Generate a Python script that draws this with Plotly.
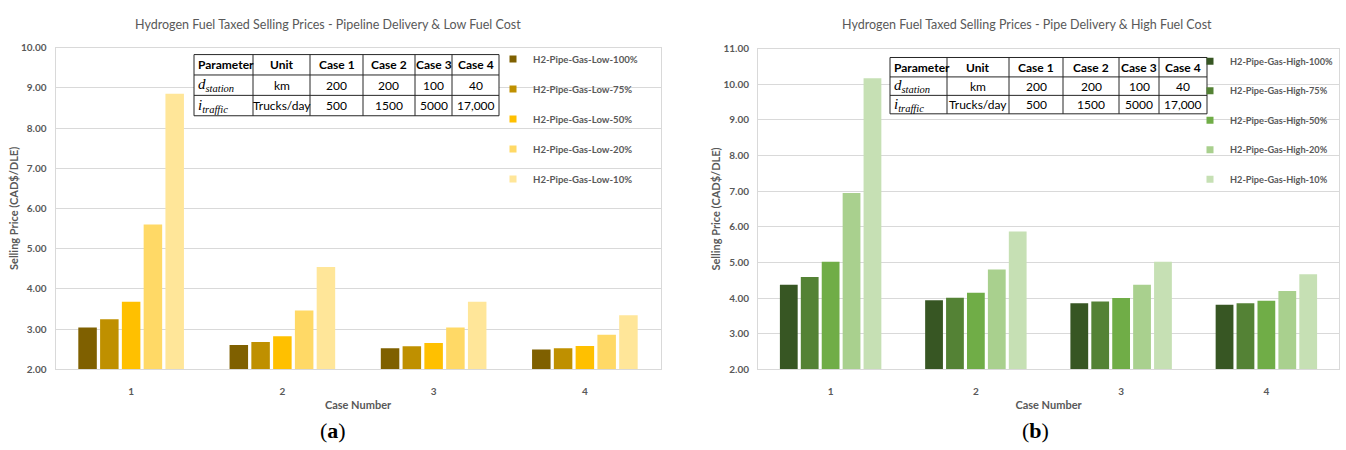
import plotly.graph_objects as go

# ---- data -------------------------------------------------------------
cases = ["1", "2", "3", "4"]

low_names = ["H2-Pipe-Gas-Low-100%", "H2-Pipe-Gas-Low-75%", "H2-Pipe-Gas-Low-50%",
             "H2-Pipe-Gas-Low-20%", "H2-Pipe-Gas-Low-10%"]
low_100 = [3.04, 2.60, 2.52, 2.49]
low_75 = [3.24, 2.68, 2.57, 2.52]
low_50 = [3.68, 2.82, 2.65, 2.58]
low_20 = [5.60, 3.46, 3.04, 2.86]
low_10 = [8.85, 4.54, 3.68, 3.34]

high_names = ["H2-Pipe-Gas-High-100%", "H2-Pipe-Gas-High-75%", "H2-Pipe-Gas-High-50%",
              "H2-Pipe-Gas-High-20%", "H2-Pipe-Gas-High-10%"]
high_100 = [4.37, 3.94, 3.85, 3.81]
high_75 = [4.59, 4.01, 3.90, 3.85]
high_50 = [5.02, 4.15, 4.00, 3.92]
high_20 = [6.95, 4.80, 4.37, 4.20]
high_10 = [10.17, 5.87, 5.02, 4.67]

table_header = ["Parameter", "Unit", "Case 1", "Case 2", "Case 3", "Case 4"]
table_param = ["<i>d<sub>station</sub></i>", "<i>i<sub>traffic</sub></i>"]
table_unit = ["km", "Trucks/day"]
table_case1 = ["200", "500"]
table_case2 = ["200", "1500"]
table_case3 = ["100", "5000"]
table_case4 = ["40", "17,000"]

title_low = "Hydrogen Fuel Taxed Selling Prices - Pipeline Delivery & Low Fuel Cost"
title_high = "Hydrogen Fuel Taxed Selling Prices - Pipe Delivery & High Fuel Cost"

# ---- styling ----------------------------------------------------------
W, H = 1346, 450
low_colors = ["#7F6000", "#BF9000", "#FFC000", "#FFD966", "#FFE699"]
high_colors = ["#375623", "#548235", "#70AD47", "#A9D08E", "#C6E0B4"]
GREY = "#595959"
GRID = "#D9D9D9"
FONT = "Lato"


def px_x(p):
    return p / W


def px_y(p):
    return 1 - p / H


fig = go.Figure()

low_series = [low_100, low_75, low_50, low_20, low_10]
high_series = [high_100, high_75, high_50, high_20, high_10]

for name, vals, col in zip(low_names, low_series, low_colors):
    fig.add_trace(go.Bar(x=cases, y=vals, name=name, marker_color=col,
                         marker_line_width=0, showlegend=False,
                         xaxis="x", yaxis="y"))
    fig.add_trace(go.Scatter(x=[None], y=[None], mode="markers", name=name,
                             marker=dict(symbol="square", size=7, color=col),
                             legend="legend", legendgroup=name,
                             xaxis="x", yaxis="y"))

for name, vals, col in zip(high_names, high_series, high_colors):
    fig.add_trace(go.Bar(x=cases, y=vals, name=name, marker_color=col,
                         marker_line_width=0, showlegend=False,
                         xaxis="x2", yaxis="y2"))
    fig.add_trace(go.Scatter(x=[None], y=[None], mode="markers", name=name,
                             marker=dict(symbol="square", size=7, color=col),
                             legend="legend2", legendgroup=name,
                             xaxis="x2", yaxis="y2"))

shapes = []
annotations = []


def add_table(col_edges, row_edges):
    """Parameter table drawn with paper-space lines and text."""
    x0, x1 = col_edges[0], col_edges[-1]
    y0, y1 = row_edges[0], row_edges[-1]
    shapes.append(dict(type="rect", xref="paper", yref="paper", layer="above",
                       x0=px_x(x0), x1=px_x(x1), y0=px_y(y1), y1=px_y(y0),
                       fillcolor="white", line=dict(color="#262626", width=1)))
    for cx in col_edges[1:-1]:
        shapes.append(dict(type="line", xref="paper", yref="paper", layer="above",
                           x0=px_x(cx), x1=px_x(cx), y0=px_y(y1), y1=px_y(y0),
                           line=dict(color="#262626", width=1)))
    for ry in row_edges[1:-1]:
        shapes.append(dict(type="line", xref="paper", yref="paper", layer="above",
                           x0=px_x(x0), x1=px_x(x1), y0=px_y(ry), y1=px_y(ry),
                           line=dict(color="#262626", width=1)))
    columns = [table_param, table_unit, table_case1, table_case2, table_case3, table_case4]
    for c, head in enumerate(table_header):
        left, right = col_edges[c], col_edges[c + 1]
        rows = [f"<b>{head}</b>"] + columns[c]
        for r, txt in enumerate(rows):
            yc = (row_edges[r] + row_edges[r + 1]) / 2
            if c == 0:
                xa, xpos = "left", left + 1.5
            else:
                xa, xpos = "center", (left + right) / 2
            if c == 0 and r > 0:
                fnt = dict(family="Liberation Serif", size=15, color="black")
            else:
                fnt = dict(family=FONT, size=12, color="black")
            annotations.append(dict(text=txt, x=px_x(xpos), y=px_y(yc),
                                    xref="paper", yref="paper", showarrow=False,
                                    xanchor=xa, yanchor="middle", font=fnt))


add_table([194, 253, 310, 363, 415, 452, 499], [49, 70, 91, 112])
add_table([890, 947, 1009, 1063, 1119, 1159, 1207], [52, 72, 91, 110])

axis_common = dict(
    showgrid=False, showline=True, linecolor=GRID, linewidth=1, mirror=True,
    ticklabelstandoff=13,
    tickfont=dict(family=FONT, size=10, color=GREY, weight="bold"),
    title=dict(text="Case Number", standoff=5,
               font=dict(family=FONT, size=11, color=GREY, weight="bold")),
)
yaxis_common = dict(
    showgrid=True, gridcolor=GRID, gridwidth=1, zeroline=False,
    showline=True, linecolor=GRID, linewidth=1, mirror=True,
    dtick=1, tickformat=".2f", ticklabelstandoff=6,
    tickfont=dict(family=FONT, size=10, color=GREY, weight="bold"),
    title=dict(text="Selling Price (CAD$/DLE)", standoff=0,
               font=dict(family=FONT, size=11, color=GREY, weight="bold")),
)

for label, xc in (("a", 333), ("b", 1035)):
    annotations.append(dict(text=f"(<b>{label}</b>)", x=px_x(xc), y=px_y(436),
                            xref="paper", yref="paper", showarrow=False,
                            xanchor="center", yanchor="middle",
                            font=dict(family="Liberation Serif", size=22, color="black")))
for txt, xc in ((title_low, 328), (title_high, 1027)):
    annotations.append(dict(text=txt, x=px_x(xc), y=px_y(18), xref="paper", yref="paper",
                            showarrow=False, xanchor="center", yanchor="middle",
                            font=dict(family=FONT, size=12.5, color=GREY)))

fig.update_layout(
    width=W, height=H,
    margin=dict(l=0, r=0, t=0, b=0),
    paper_bgcolor="white", plot_bgcolor="white",
    font=dict(family=FONT, color=GREY),
    barmode="group", bargap=0.28, bargroupgap=0.15,
    xaxis=dict(domain=[px_x(55.5), px_x(660.5)], anchor="y", type="category",
               **axis_common),
    yaxis=dict(domain=[px_y(373), px_y(41.8)], anchor="x", range=[2, 10],
               **yaxis_common),
    xaxis2=dict(domain=[px_x(758), px_x(1339)], anchor="y2", type="category",
                **axis_common),
    yaxis2=dict(domain=[px_y(373), px_y(43)], anchor="x2", range=[2, 11],
                **yaxis_common),
    legend=dict(x=px_x(493), y=px_y(38.5), xanchor="left", yanchor="top",
                bgcolor="rgba(0,0,0,0)", traceorder="grouped", tracegroupgap=11,
                font=dict(family=FONT, size=9.6, color=GREY, weight="bold")),
    legend2=dict(x=px_x(1190), y=px_y(41), xanchor="left", yanchor="top",
                 bgcolor="rgba(0,0,0,0)", traceorder="grouped", tracegroupgap=10.5,
                 font=dict(family=FONT, size=9.2, color=GREY, weight="bold")),
    shapes=shapes,
    annotations=annotations,
)

fig.write_html("out.html")
